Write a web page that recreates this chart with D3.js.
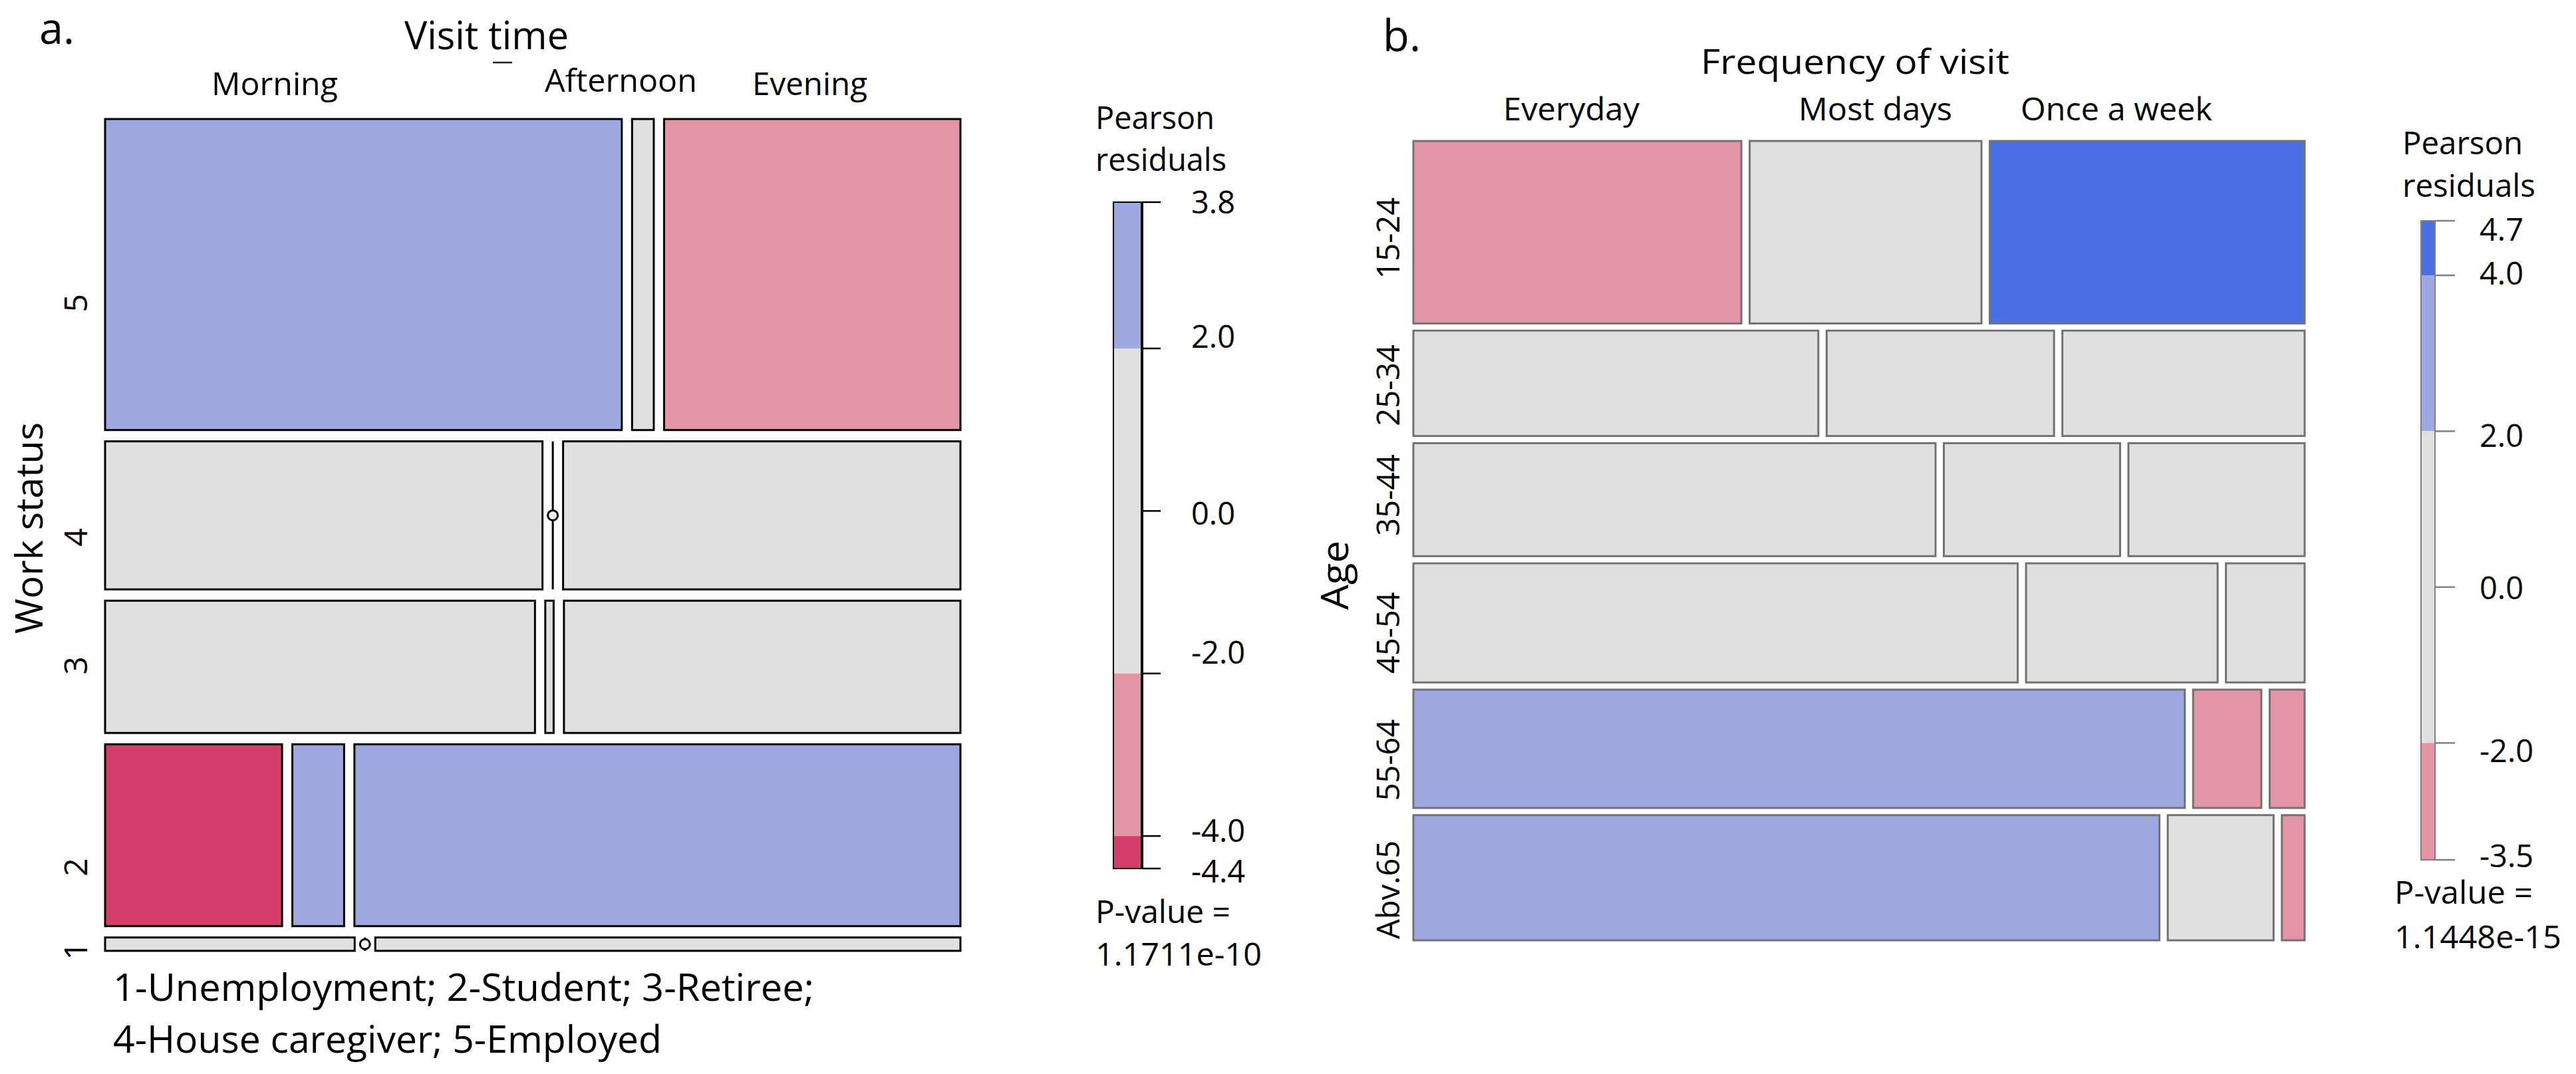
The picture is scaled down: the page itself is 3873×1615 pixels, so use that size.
<!DOCTYPE html>
<html>
<head>
<meta charset="utf-8">
<script src="https://cdn.jsdelivr.net/npm/d3@7"></script>
<style>
  html, body { margin: 0; padding: 0; background: #ffffff; }
  svg { display: block; }
  text { font-family: "Open Sans", "Noto Sans", sans-serif; fill: #000; }
</style>
</head>
<body>
<svg id="chart" width="3873" height="1615"></svg>
<script>
// ---------------- DATA ----------------
// Panel a: Work status (rows, top to bottom) x Visit time (columns)
const visitTimes = ["Morning", "Afternoon", "Evening"];
const workStatus = ["5", "4", "3", "2", "1"];
const workShare = [39.5, 18.8, 16.8, 23.1, 1.7];            // % of respondents per work status
const visitShareByWork = [                                    // % within each work status
  [61.9, 2.6, 35.5],
  [52.4, 0.0, 47.6],
  [51.5, 1.0, 47.5],
  [21.2, 6.2, 72.6],
  [29.9, 0.0, 70.1]
];
const residualsA = [                                          // Pearson residuals
  [3.1, -0.6, -3.2],
  [0.4, -1.1, -0.3],
  [0.3, -0.5, -0.2],
  [-4.4, 2.5, 3.8],
  [0.2, -0.3, 0.1]
];
const legendTicksA = [3.8, 2.0, 0.0, -2.0, -4.0, -4.4];
const pValueA = "1.1711e-10";
const workLegend = ["1-Unemployment; 2-Student; 3-Retiree;", "4-House caregiver; 5-Employed"];

// Panel b: Age (rows) x Frequency of visit (columns)
const frequencies = ["Everyday", "Most days", "Once a week"];
const ageGroups = ["15-24", "25-34", "35-44", "45-54", "55-64", "Abv.65"];
const ageShare = [23.9, 13.8, 14.8, 15.6, 15.5, 16.4];
const freqShareByAge = [
  [37.5, 26.5, 36.0],
  [46.3, 26.0, 27.7],
  [59.7, 20.15, 20.15],
  [69.1, 21.9, 9.0],
  [88.2, 7.8, 4.0],
  [85.3, 12.1, 2.6]
];
const residualsB = [
  [-3.5, -0.5, 4.7],
  [-1.2, 0.8, 1.0],
  [0.3, -0.2, -0.3],
  [1.0, 0.3, -1.8],
  [2.9, -2.8, -2.9],
  [2.6, -1.0, -3.2]
];
const legendTicksB = [4.7, 4.0, 2.0, 0.0, -2.0, -3.5];
const pValueB = "1.1448e-15";

// ---------------- SHADING ----------------
const shade = d3.scaleThreshold()
  .domain([-4, -2, 2, 4])
  .range(["#D33F6A", "#E495A5", "#E0E0E0", "#9DA8E1", "#4A6FE3"]);

const svg = d3.select("#chart");

function txt(g, s, x, y, size, opts = {}) {
  const t = g.append("text").attr("x", x).attr("y", y)
    .attr("font-size", size).text(s);
  if (opts.anchor) t.attr("text-anchor", opts.anchor);
  if (opts.len) t.attr("textLength", opts.len).attr("lengthAdjust", "spacingAndGlyphs");
  if (opts.rot) t.attr("transform", `rotate(-90,${x},${y})`);
  if (opts.dy) t.attr("dy", opts.dy);
  return t;
}

// Mosaic drawer
function mosaic(g, cfg) {
  const nR = cfg.rowShare.length, nC = cfg.colShare[0].length;
  const yS = d3.scaleLinear().domain([0, 100]).range([0, cfg.height - cfg.gapY * (nR - 1)]);
  const xS = d3.scaleLinear().domain([0, 100]).range([0, cfg.width - cfg.gapX * (nC - 1)]);
  const rowCum = d3.cumsum([0, ...cfg.rowShare]);
  const rows = [];
  cfg.rowShare.forEach((rs, i) => {
    const y0 = cfg.y + yS(rowCum[i]) + i * cfg.gapY;
    const h = yS(rs);
    const colCum = d3.cumsum([0, ...cfg.colShare[i]]);
    rows.push({ y0, h });
    cfg.colShare[i].forEach((cs, j) => {
      const x0 = cfg.x + xS(colCum[j]) + j * cfg.gapX;
      const w = xS(cs);
      if (cs > 0) {
        g.append("rect").attr("x", x0).attr("y", y0).attr("width", w).attr("height", h)
          .attr("fill", shade(cfg.resid[i][j]))
          .attr("stroke", cfg.stroke).attr("stroke-width", cfg.strokeW);
      } else {
        g.append("line").attr("x1", x0).attr("x2", x0).attr("y1", y0).attr("y2", y0 + h)
          .attr("stroke", cfg.stroke).attr("stroke-width", cfg.strokeW);
        g.append("circle").attr("cx", x0).attr("cy", y0 + h / 2).attr("r", 7.5)
          .attr("fill", "#f2f2f2").attr("stroke", cfg.stroke).attr("stroke-width", 3);
      }
    });
  });
  return rows;
}

function legendBar(g, cfg) {
  const first = cfg.ticks[0], last = cfg.ticks[cfg.ticks.length - 1];
  const yS = d3.scaleLinear().domain([first, last]).range([cfg.y0, cfg.y1]);
  const breaks = [first, ...[4, 2, -2, -4].filter(b => b < first && b > last), last];
  for (let k = 0; k < breaks.length - 1; k++) {
    const mid = (breaks[k] + breaks[k + 1]) / 2;
    g.append("rect").attr("x", cfg.x).attr("width", cfg.w)
      .attr("y", yS(breaks[k])).attr("height", yS(breaks[k + 1]) - yS(breaks[k]))
      .attr("fill", shade(mid));
  }
  g.append("rect").attr("x", cfg.x).attr("y", cfg.y0).attr("width", cfg.w).attr("height", cfg.y1 - cfg.y0)
    .attr("fill", "none").attr("stroke", cfg.stroke).attr("stroke-width", cfg.sw);
  g.append("line").attr("x1", cfg.x + cfg.w).attr("x2", cfg.x + cfg.w).attr("y1", cfg.y0).attr("y2", cfg.y1)
    .attr("stroke", cfg.stroke).attr("stroke-width", cfg.rightW);
  cfg.ticks.forEach((t, k) => {
    g.append("line").attr("x1", cfg.x + cfg.w).attr("x2", cfg.x + cfg.w + cfg.tickLen)
      .attr("y1", yS(t)).attr("y2", yS(t)).attr("stroke", cfg.stroke).attr("stroke-width", 2.5);
    txt(g, t.toFixed(1), cfg.labelX, yS(t) + cfg.nudge[k], 47, { dy: "0.36em" });
  });
}

// ================= PANEL A =================
const gA = svg.append("g");
txt(gA, "a.", 59, 66, 66, { len: 53 });
txt(gA, "Visit time", 608, 74, 59, { len: 247 });
gA.append("line").attr("x1", 741).attr("x2", 770).attr("y1", 94).attr("y2", 94)
  .attr("stroke", "#222").attr("stroke-width", 2.5);
const colLabelA = [{ x: 318, y: 143, len: 190 }, { x: 819, y: 138, len: 229 }, { x: 1131, y: 143, len: 173 }];
visitTimes.forEach((v, i) => txt(gA, v, colLabelA[i].x, colLabelA[i].y, 48, { len: colLabelA[i].len }));

const rowsA = mosaic(gA, {
  x: 158, y: 179, width: 1286, height: 1252, gapX: 15.5, gapY: 17,
  rowShare: workShare, colShare: visitShareByWork, resid: residualsA,
  stroke: "#000", strokeW: 3
});
const rowLabelNudgeA = [43, 33, -2, 48, 10];
workStatus.forEach((w, i) => {
  txt(gA, w, 131, rowsA[i].y0 + rowsA[i].h / 2 + rowLabelNudgeA[i], 48, { anchor: "middle", rot: true });
});
txt(gA, "Work status", 64, 794, 56, { anchor: "middle", rot: true, len: 318 });
txt(gA, workLegend[0], 170, 1505, 56, { len: 1054 });
txt(gA, workLegend[1], 170, 1583, 56, { len: 825 });

// Legend A
txt(gA, "Pearson", 1647, 194, 47, { len: 179 });
txt(gA, "residuals", 1647, 257, 47, { len: 197 });
legendBar(gA, { x: 1674, w: 43, y0: 304, y1: 1306, ticks: legendTicksA, stroke: "#000", sw: 2, rightW: 4, tickLen: 28, labelX: 1791,
  nudge: [0, -18, 4, -32, -8, 4] });
txt(gA, "P-value =", 1647, 1388, 47, { len: 203 });
txt(gA, pValueA, 1647, 1452, 47, { len: 250 });

// ================= PANEL B =================
const gB = svg.append("g");
txt(gB, "b.", 2079, 77, 66, { len: 57 });
txt(gB, "Frequency of visit", 2557, 111, 52, { len: 464 });
const colLabelB = [{ x: 2260, len: 205 }, { x: 2704, len: 231 }, { x: 3038, len: 288 }];
frequencies.forEach((f, i) => txt(gB, f, colLabelB[i].x, 181, 47, { len: colLabelB[i].len }));

const rowsB = mosaic(gB, {
  x: 2125, y: 212, width: 1340, height: 1202, gapX: 12.5, gapY: 10.8,
  rowShare: ageShare, colShare: freqShareByAge, resid: residualsB,
  stroke: "#727272", strokeW: 3
});
const rowLabelNudgeB = [9, 3, -7, 15, 17, 18];
ageGroups.forEach((a, i) => {
  txt(gB, a, 2104, rowsB[i].y0 + rowsB[i].h / 2 + rowLabelNudgeB[i], 47, { anchor: "middle", rot: true });
});
txt(gB, "Age", 2027, 865, 57, { anchor: "middle", rot: true, len: 104 });

// Legend B
txt(gB, "Pearson", 3612, 232, 47, { len: 181 });
txt(gB, "residuals", 3612, 296, 47, { len: 200 });
legendBar(gB, { x: 3640, w: 21, y0: 332, y1: 1293, ticks: legendTicksB, stroke: "#808080", sw: 2, rightW: 2, tickLen: 30, labelX: 3728,
  nudge: [13, -3, 7, 1, 12, -6] });
txt(gB, "P-value =", 3600, 1359, 47, { len: 208 });
txt(gB, pValueB, 3600, 1426, 47, { len: 251 });
</script>
</body>
</html>
